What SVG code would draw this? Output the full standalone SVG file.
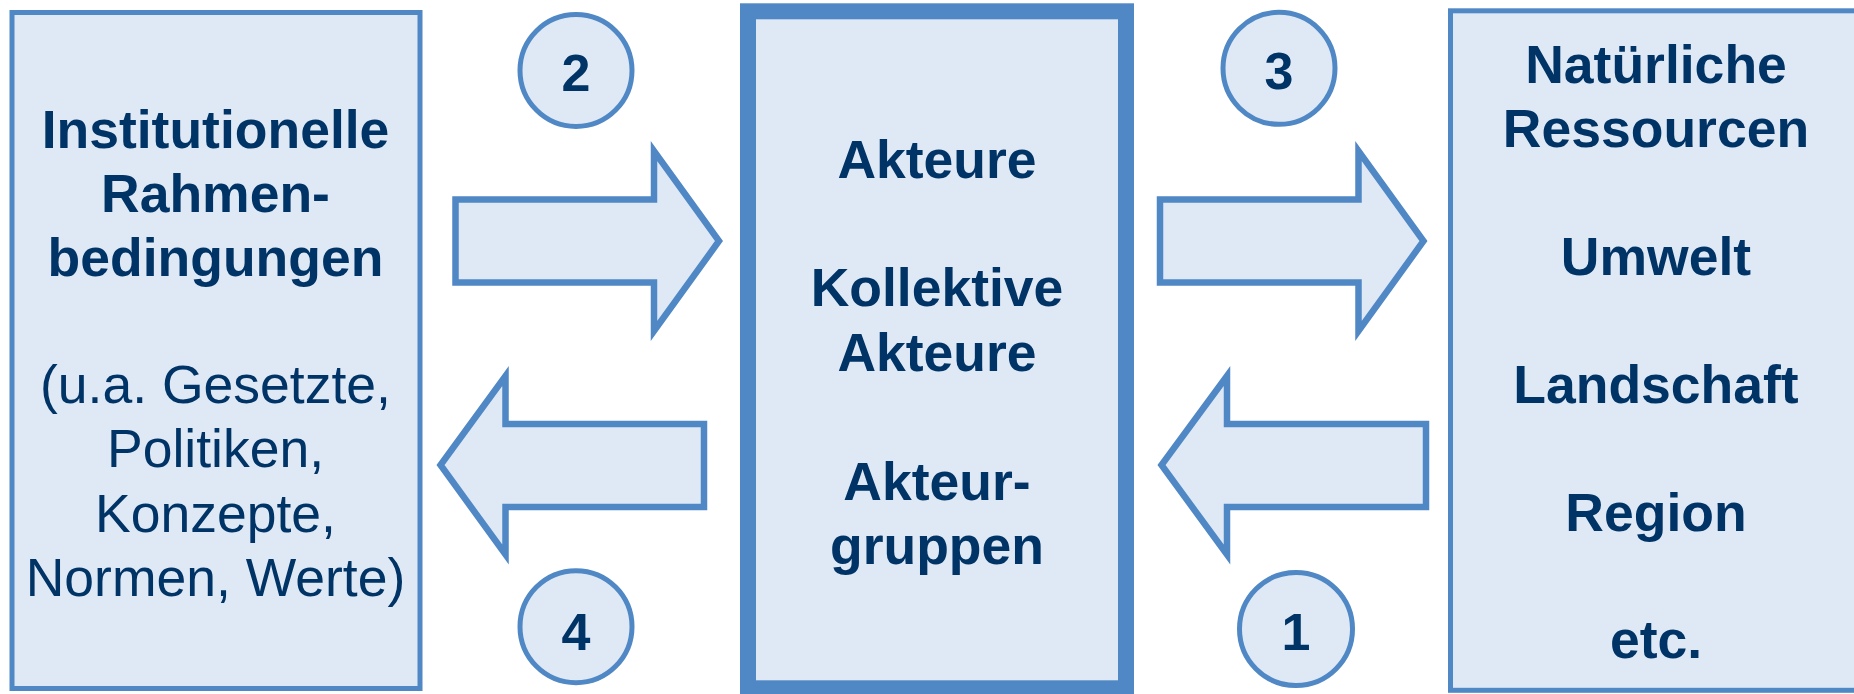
<svg xmlns="http://www.w3.org/2000/svg" width="1854" height="694" viewBox="0 0 1854 694">
<style>
.box{fill:#DFE9F5;stroke:#4F88C5}
.arrow{fill:#DFE9F5;stroke:#4F88C5;stroke-width:6.5;stroke-linejoin:miter}
.circ{fill:#DFE9F5;stroke:#4F88C5;stroke-width:5}
text{font-family:"Liberation Sans",Arial,sans-serif;font-size:53.5px;fill:#003366;text-anchor:middle}
.b{font-weight:bold}
.num{font-weight:bold;font-size:52px}
</style>
<rect width="1854" height="694" fill="#FFFFFF"/>
<g id="node-left">
<rect class="box" x="12" y="12.5" width="408" height="676" stroke-width="5"/>
<text class="b" x="215.5" y="147.7">Institutionelle</text>
<text class="b" x="215.5" y="211.7">Rahmen-</text>
<text class="b" x="215.5" y="276">bedingungen</text>
<text x="215.5" y="403.3">(u.a. Gesetzte,</text>
<text x="215.5" y="467">Politiken,</text>
<text x="215.5" y="531.5">Konzepte,</text>
<text x="215.5" y="595.5">Normen, Werte)</text>
</g>
<g id="node-middle">
<rect class="box" x="748" y="11.3" width="378" height="677" stroke-width="16"/>
<text class="b" x="937" y="178.3">Akteure</text>
<text class="b" x="937" y="306">Kollektive</text>
<text class="b" x="937" y="371">Akteure</text>
<text class="b" x="937" y="500">Akteur-</text>
<text class="b" x="937" y="563.5">gruppen</text>
</g>
<g id="node-right">
<rect class="box" x="1450.5" y="10.8" width="411" height="679.5" stroke-width="5"/>
<text class="b" x="1656" y="83.3">Natürliche</text>
<text class="b" x="1656" y="146.7">Ressourcen</text>
<text class="b" x="1656" y="275">Umwelt</text>
<text class="b" x="1656" y="402.7">Landschaft</text>
<text class="b" x="1656" y="530.7">Region</text>
<text class="b" x="1656" y="658.3">etc.</text>
</g>
<g id="connectors">
<polygon id="arrow-2" class="arrow" points="455.5,199.5 654,199.5 654,151 719,241 654,331 654,282.5 455.5,282.5"/>
<polygon id="arrow-3" class="arrow" points="1160,199.5 1358.5,199.5 1358.5,151 1423.5,241 1358.5,331 1358.5,282.5 1160,282.5"/>
<polygon id="arrow-4" class="arrow" points="704,424 505.5,424 505.5,376 440.5,465 505.5,554.5 505.5,507 704,507"/>
<polygon id="arrow-1" class="arrow" points="1426,424 1227,424 1227,376 1161.5,465 1227,554.5 1227,507 1426,507"/>
</g>
<g id="badge-2">
<circle class="circ" cx="576" cy="70.5" r="56"/>
<text class="num" x="576" y="90.7">2</text>
</g>
<g id="badge-3">
<circle class="circ" cx="1279" cy="68.3" r="56"/>
<text class="num" x="1279" y="89">3</text>
</g>
<g id="badge-4">
<circle class="circ" cx="576" cy="626.7" r="56"/>
<text class="num" x="576" y="650">4</text>
</g>
<g id="badge-1">
<circle class="circ" cx="1296" cy="629" r="56.5"/>
<text class="num" x="1296" y="650">1</text>
</g>
</svg>
